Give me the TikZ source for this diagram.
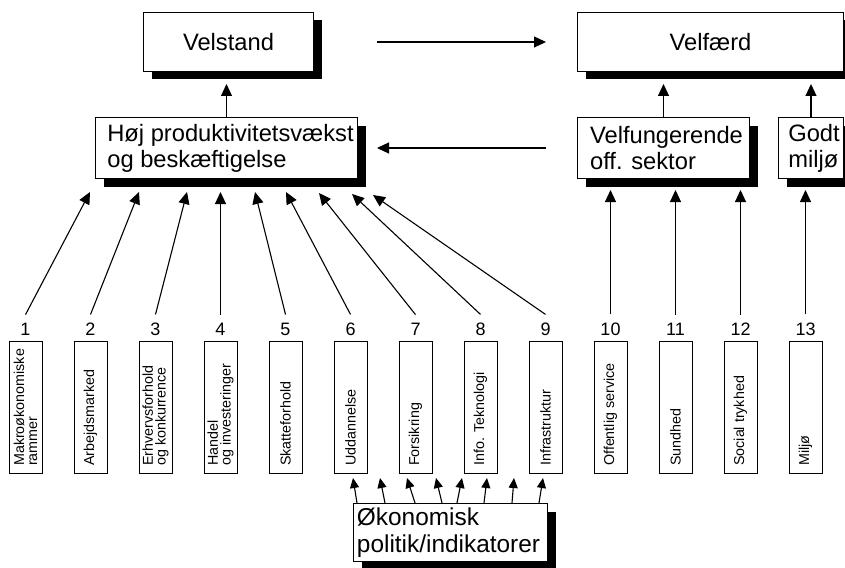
\documentclass[tikz,border=0pt]{standalone}
\usepackage{fontspec}
\setmainfont{Liberation Sans}
\usetikzlibrary{arrows.meta,shadows,calc}
\begin{document}
\begin{tikzpicture}[x=1pt,y=-1pt,
  big/.style={font=\fontsize{23.7}{26}\selectfont},
  box/.style={draw, line width=1pt, fill=white, inner sep=0pt, anchor=north west,
    general shadow={fill=black, shadow xshift=8pt, shadow yshift=-8pt}},
  colbox/.style={draw, line width=1pt, minimum width=33pt, minimum height=132pt, anchor=north, inner sep=0pt},
  vlab/.style={rotate=90, anchor=west, align=left, inner sep=0pt, font=\fontsize{14.3}{12.8}\selectfont},
  num/.style={inner sep=0pt, inner ysep=8pt, font=\fontsize{18}{20}\selectfont},
  arr/.style={-{Triangle[length=12pt,width=11pt]}, line width=1.1pt},
  arrs/.style={-{Triangle[length=10pt,width=9pt]}, line width=1.1pt}]
\useasboundingbox (0,0) rectangle (845,567);

% top boxes
\node[box, big, minimum width=170pt, minimum height=59pt] (velstand) at (143,12) {Velstand};
\node[box, big, minimum width=266pt, minimum height=59pt] (velfaerd) at (577,12) {Velfærd};

% middle boxes
\node[box, big, minimum width=262pt, minimum height=61pt, align=left] (hoj) at (95,117)
  {\hspace*{8pt}Høj produktivitetsvækst\\\hspace*{8pt}og beskæftigelse};
\node[box, big, minimum width=172pt, minimum height=61pt, align=left] (velfung) at (577,117)
  {\hspace*{6pt}Velfungerende\\\hspace*{6pt}off. sektor};
\node[box, big, minimum width=65pt, minimum height=61pt, align=left] (godt) at (778,117)
  {\hspace*{6pt}Godt\\\hspace*{6pt}miljø};

% bottom box
\node[box, minimum width=194pt, minimum height=58pt, align=left, font=\fontsize{24.4}{27}\selectfont] (okon) at (353,503)
  {\hspace*{-4pt}Økonomisk\\\hspace*{-4pt}politik/indikatorer};

% arrows between main boxes
\draw[arr, shorten <=63pt, shorten >=31pt] (velstand.east) -- (velfaerd.west);
\draw[arr, shorten <=31pt, shorten >=19pt] (velfung.west |- hoj.east) -- (hoj.east);
\draw[arr, shorten >=12pt] (hoj.north) -- (hoj.north |- velstand.south);
\draw[arr, shorten >=12pt] (velfung.north) -- (velfung.north |- velfaerd.south);
\draw[arr, shorten >=12pt] (godt.north) -- (godt.north |- velfaerd.south);

% columns
\foreach \i/\t in {1/{Makroøkonomiske\\rammer}, 2/{Arbejdsmarked}, 3/{Erhvervsforhold\\og konkurrence},
  4/{Handel\\og investeringer}, 5/{Skatteforhold}, 6/{Uddannelse}, 7/{Forsikring},
  8/{Info. Teknologi}, 9/{Infrastruktur}, 10/{Offentlig service}, 11/{Sundhed},
  12/{Social trykhed}, 13/{Miljø}} {
  \pgfmathsetmacro\cx{25.5+65*(\i-1)}
  \node[num] (n\i) at (\cx,329) {\i};
  \node[colbox] (c\i) at (\cx,341) {};
  \node[vlab] (l\i) at (\cx,466) {\t};
}

% arrows from columns 1-9 to hoj
\foreach \i/\tx/\ty in {1/90/192, 2/139/192, 3/187/192, 4/220.5/192, 5/255/192,
  6/286/192, 7/319/193, 8/352/194, 9/373/195} {
  \coordinate (t\i) at (\tx,\ty);
  \draw[arr] (n\i.north) -- (t\i);
}

% arrows from columns 10-13
\coordinate (tl) at (0,190);
\foreach \i in {10,11,12,13} {
  \draw[arr] (n\i.north) -- (n\i.north |- tl);
}

% small arrows from bottom box
\foreach \b/\t in {357/353, 385/380, 415/407, 442/436, 457/462, 484/487, 512/514, 539/543} {
  \draw[arrs] ($(okon.north west)+(\b-353,0)$) -- ($(okon.north west)+(\t-353,-25)$);
}
\end{tikzpicture}
\end{document}
